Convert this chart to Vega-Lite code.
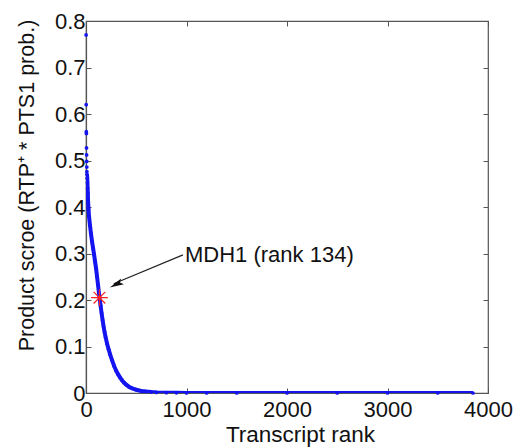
{
  "$schema": "https://vega.github.io/schema/vega-lite/v6.json",
  "width": 402,
  "height": 372,
  "autosize": {"type": "none"},
  "padding": {"left": 86, "top": 21, "right": 30, "bottom": 55},
  "background": "white",
  "config": {
    "font": "Liberation Sans",
    "view": {"stroke": "#555555", "strokeWidth": 1.2},
    "axis": {
      "domain": true, "domainColor": "#555555", "domainWidth": 1.2,
      "tickColor": "#555555", "tickSize": -5, "tickWidth": 1,
      "labelFont": "Liberation Sans", "labelFontSize": 22, "labelColor": "#111111",
      "titleFont": "Liberation Sans", "titleFontSize": 22.5, "titleFontWeight": "normal", "titleColor": "#111111",
      "grid": false
    }
  },
  "datasets": {
    "curve": [
      {"rank": 1, "score": 0.77}, {"rank": 2, "score": 0.62}, {"rank": 3, "score": 0.562},
      {"rank": 4, "score": 0.558}, {"rank": 5, "score": 0.527}, {"rank": 6, "score": 0.512},
      {"rank": 7, "score": 0.498}, {"rank": 8, "score": 0.486}, {"rank": 9, "score": 0.476},
      {"rank": 10, "score": 0.47}, {"rank": 12, "score": 0.462}, {"rank": 14, "score": 0.452},
      {"rank": 16, "score": 0.44}, {"rank": 18, "score": 0.43}, {"rank": 20, "score": 0.415},
      {"rank": 25, "score": 0.395}, {"rank": 30, "score": 0.38}, {"rank": 40, "score": 0.36},
      {"rank": 50, "score": 0.342}, {"rank": 60, "score": 0.326}, {"rank": 70, "score": 0.312},
      {"rank": 80, "score": 0.298}, {"rank": 90, "score": 0.283}, {"rank": 100, "score": 0.268},
      {"rank": 110, "score": 0.25}, {"rank": 120, "score": 0.232}, {"rank": 134, "score": 0.205},
      {"rank": 145, "score": 0.188}, {"rank": 155, "score": 0.172}, {"rank": 165, "score": 0.157},
      {"rank": 175, "score": 0.143}, {"rank": 185, "score": 0.131}, {"rank": 195, "score": 0.12},
      {"rank": 210, "score": 0.106}, {"rank": 225, "score": 0.094}, {"rank": 240, "score": 0.083},
      {"rank": 260, "score": 0.07}, {"rank": 280, "score": 0.058}, {"rank": 300, "score": 0.048},
      {"rank": 320, "score": 0.04}, {"rank": 340, "score": 0.033}, {"rank": 360, "score": 0.027},
      {"rank": 380, "score": 0.022}, {"rank": 400, "score": 0.018}, {"rank": 430, "score": 0.013},
      {"rank": 460, "score": 0.01}, {"rank": 500, "score": 0.007}, {"rank": 550, "score": 0.0045},
      {"rank": 600, "score": 0.003}, {"rank": 650, "score": 0.002}, {"rank": 700, "score": 0.0013},
      {"rank": 800, "score": 0.0007}, {"rank": 900, "score": 0.0004}, {"rank": 1000, "score": 0.0002},
      {"rank": 1200, "score": 0.0001}, {"rank": 1500, "score": 0.00005}, {"rank": 2000, "score": 0.00002},
      {"rank": 2500, "score": 0.00001}, {"rank": 3000, "score": 0.0}, {"rank": 3500, "score": 0.0},
      {"rank": 3850, "score": 0.0}
    ],
    "highlight": [{"rank": 134, "score": 0.205, "label": "MDH1 (rank 134)"}],
    "arrow": [{"x1": 965, "y1": 0.297, "x2": 275, "y2": 0.235, "hx": 300, "hy": 0.2335, "angle": 244}]
  },
  "resolve": {"axis": {"x": "independent", "y": "independent"}},
  "layer": [
    {
      "data": {"name": "curve"},
      "transform": [{"filter": "datum.rank >= 10"}],
      "mark": {"type": "line", "color": "#1414f0", "strokeWidth": 4, "clip": true},
      "encoding": {
        "x": {"field": "rank", "type": "quantitative",
              "scale": {"domain": [0, 4000], "nice": false},
              "axis": {"values": [0, 1000, 2000, 3000, 4000], "format": "d", "title": "Transcript rank", "titleX": 214, "titleY": 48, "titleBaseline": "alphabetic", "labelPadding": 11, "labelFlush": false}},
        "y": {"field": "score", "type": "quantitative",
              "scale": {"domain": [0, 0.8], "nice": false},
              "axis": {"values": [0, 0.1, 0.2, 0.3, 0.4, 0.5, 0.6, 0.7, 0.8], "title": "Product scroe (RTP⁺ * PTS1 prob.)", "titleFontSize": 21.5, "titleX": -53, "titleY": 164, "titleBaseline": "alphabetic", "labelPadding": 6, "labelFlush": false, "labelExpr": "datum.value == 0 ? '0' : format(datum.value, '.1f')"}}
      }
    },
    {
      "data": {"name": "curve"},
      "mark": {"type": "point", "filled": true, "color": "#1414f0", "size": 14, "opacity": 1},
      "encoding": {
        "x": {"field": "rank", "type": "quantitative", "axis": {"orient": "top", "labels": false, "title": null, "domain": false, "values": [0, 1000, 2000, 3000, 4000]}},
        "y": {"field": "score", "type": "quantitative", "axis": {"orient": "right", "labels": false, "title": null, "domain": false, "values": [0, 0.1, 0.2, 0.3, 0.4, 0.5, 0.6, 0.7, 0.8]}}
      }
    },
    {
      "data": {"name": "highlight"},
      "mark": {"type": "point", "shape": "M-1,0L1,0M0,-1L0,1M-0.7,-0.7L0.7,0.7M-0.7,0.7L0.7,-0.7", "filled": false, "color": "#ff2020", "size": 280, "strokeWidth": 1.2, "opacity": 1},
      "encoding": {
        "x": {"field": "rank", "type": "quantitative", "axis": null},
        "y": {"field": "score", "type": "quantitative", "axis": null}
      }
    },
    {
      "data": {"name": "arrow"},
      "mark": {"type": "rule", "color": "#222222", "strokeWidth": 1.2},
      "encoding": {
        "x": {"field": "x1", "type": "quantitative", "axis": null},
        "y": {"field": "y1", "type": "quantitative", "axis": null},
        "x2": {"field": "x2"},
        "y2": {"field": "y2"}
      }
    },
    {
      "data": {"name": "arrow"},
      "mark": {"type": "point", "shape": "M0,-1L0.45,1L0,0.6L-0.45,1Z", "filled": true, "color": "#111111", "size": 200, "opacity": 1},
      "encoding": {
        "x": {"field": "hx", "type": "quantitative", "axis": null},
        "y": {"field": "hy", "type": "quantitative", "axis": null},
        "angle": {"field": "angle", "type": "quantitative", "scale": null}
      }
    },
    {
      "data": {"name": "highlight"},
      "mark": {"type": "text", "align": "left", "baseline": "alphabetic", "fontSize": 22, "font": "Liberation Sans", "color": "#111111"},
      "encoding": {
        "x": {"datum": 985, "type": "quantitative", "axis": null},
        "y": {"datum": 0.2817, "type": "quantitative", "axis": null},
        "text": {"field": "label"}
      }
    }
  ]
}
